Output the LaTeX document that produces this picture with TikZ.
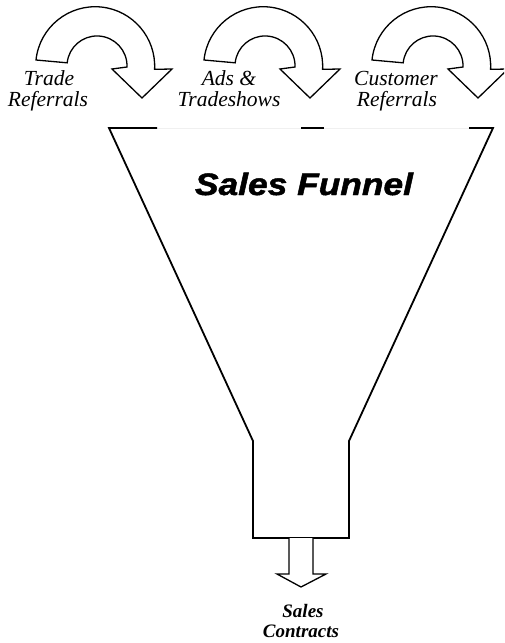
\documentclass[tikz,border=0pt]{standalone}
\usepackage{fontspec}
\setmainfont{Liberation Serif}
\newfontfamily\arialfont[FakeBold=1.5]{Liberation Sans}
\begin{document}
\begin{tikzpicture}[x=1pt,y=-1pt,
  outline/.style={draw=black,line width=1.3pt,line join=miter,fill=white},
  funnelline/.style={draw=black,line width=1.8pt,line join=miter},
  sourcetext/.style={font=\fontsize{21.5}{22}\selectfont\itshape,anchor=base,inner sep=0pt},
  outtext/.style={font=\fontsize{19}{20}\selectfont\bfseries\itshape,anchor=base,inner sep=0pt},
  uturn/.pic={
    \path[outline] (36,60) arc[start angle=186,end angle=363,radius=59.5]
      -- (172,69) -- (142,98) -- (112,69) -- (127,67)
      arc[start angle=362,end angle=186,radius=30] -- cycle;
  }]
\useasboundingbox (0,0) rectangle (504,643);
\clip (0,0) rectangle (504,643);

% funnel body
\draw[gray!12,line width=1pt] (109,128) -- (493,128);
\draw[funnelline] (157,128) -- (109,128) -- (253,441) -- (253,538)
  -- (349,538) -- (349,441) -- (493,128) -- (469,128);
\draw[funnelline] (301,128) -- (324,128);

% three lead sources feeding the funnel
\pic at (0,0) {uturn};
\pic at (168,0) {uturn};
\pic at (336,0) {uturn};

\node[sourcetext] (trade1) at (49,85) {Trade};
\node[sourcetext] (trade2) at (48,106) {Referrals};
\node[sourcetext] (ads1) at (229,85) {Ads \&};
\node[sourcetext] (ads2) at (229,106) {Tradeshows};
\node[sourcetext] (cust1) at (396,85) {Customer};
\node[sourcetext] (cust2) at (397,106) {Referrals};

% title
\node[anchor=base,inner sep=0pt] (title) at (304,195)
  {\scalebox{1.14}[1]{\arialfont\bfseries\itshape\fontsize{31}{31}\selectfont Sales Funnel}};

% output arrow
\path[outline] (289,538) -- (289,574) -- (277,574) -- (301,587)
  -- (326,574) -- (313,574) -- (313,538);
\node[outtext] (out1) at (303,617) {Sales};
\node[outtext] (out2) at (301,637) {Contracts};
\end{tikzpicture}
\end{document}
